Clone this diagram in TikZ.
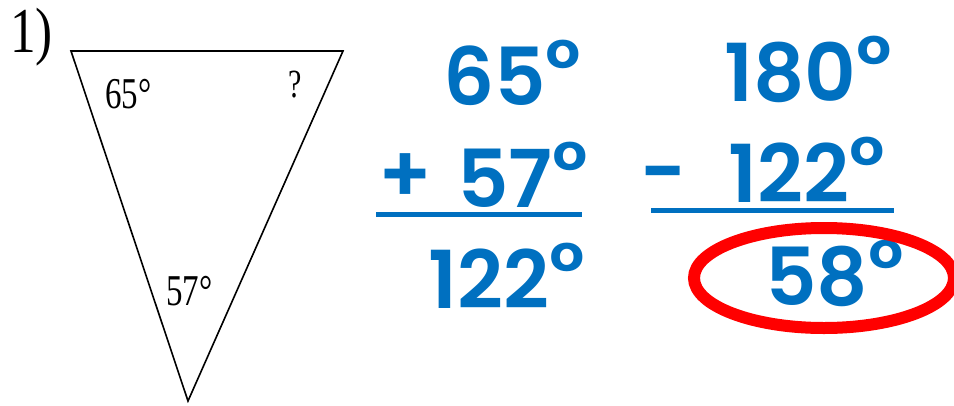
\documentclass[tikz,border=0pt]{standalone}
\usepackage{fontspec}
\setmainfont{Liberation Serif}
\newfontfamily\bluefont{Poppins SemiBold}
\newcommand{\degsym}{\raisebox{9pt}{°}}
\definecolor{ansblue}{RGB}{0,112,192}
\definecolor{circred}{RGB}{255,0,0}
\begin{document}
\begin{tikzpicture}[x=1pt,y=-1pt,
  bluetxt/.style={text=ansblue,inner sep=0pt,anchor=base west,font=\bluefont\fontsize{80}{80}\selectfont},
  seriftxt/.style={inner sep=0pt,anchor=base west},
  rule/.style={draw=ansblue,line width=5pt},
  tri/.style={draw=black,line width=1.6pt,line join=miter}]
\useasboundingbox (0,0) rectangle (954,405);
% problem number
\node[seriftxt] (num) at (10,52) {\fontsize{64}{64}\selectfont\scalebox{0.8}[1]{1)}};
% triangle
\coordinate (A) at (71,51);
\coordinate (B) at (343,51);
\coordinate (C) at (188,401);
\draw[tri] (A) -- (B) -- (C) -- cycle;
\node[seriftxt] (a65) at (105,108) {\fontsize{44}{44}\selectfont\scalebox{0.75}[1]{65°}};
\node[seriftxt] (aq) at (288,97) {\fontsize{40}{40}\selectfont\scalebox{0.75}[1]{?}};
\node[seriftxt] (a57) at (166,305) {\fontsize{44}{44}\selectfont\scalebox{0.75}[1]{57°}};
% addition
\node[bluetxt] (s65) at (443,105) {65\degsym};
\node[bluetxt,anchor=center] (plus) at (405,178) {+};
\node[bluetxt] (s57) at (457,207) {57\degsym};
\coordinate (l1a) at (376,214.5);
\coordinate (l1b) at (582,214.5);
\draw[rule] (l1a) -- (l1b);
\node[bluetxt] (s122) at (428,308) {122\degsym};
% subtraction
\node[bluetxt] (d180) at (724,101) {180\degsym};
\node[bluetxt,anchor=center] (minus) at (664,183) {-};
\node[bluetxt] (d122) at (728,202) {122\degsym};
\coordinate (l2a) at (651,210.5);
\coordinate (l2b) at (894,210.5);
\draw[rule] (l2a) -- (l2b);
\node[bluetxt] (d58) at (765,305) {58\degsym};
\draw[circred,line width=12pt] (824,278) ellipse [x radius=130, y radius=50];
\end{tikzpicture}
\end{document}
